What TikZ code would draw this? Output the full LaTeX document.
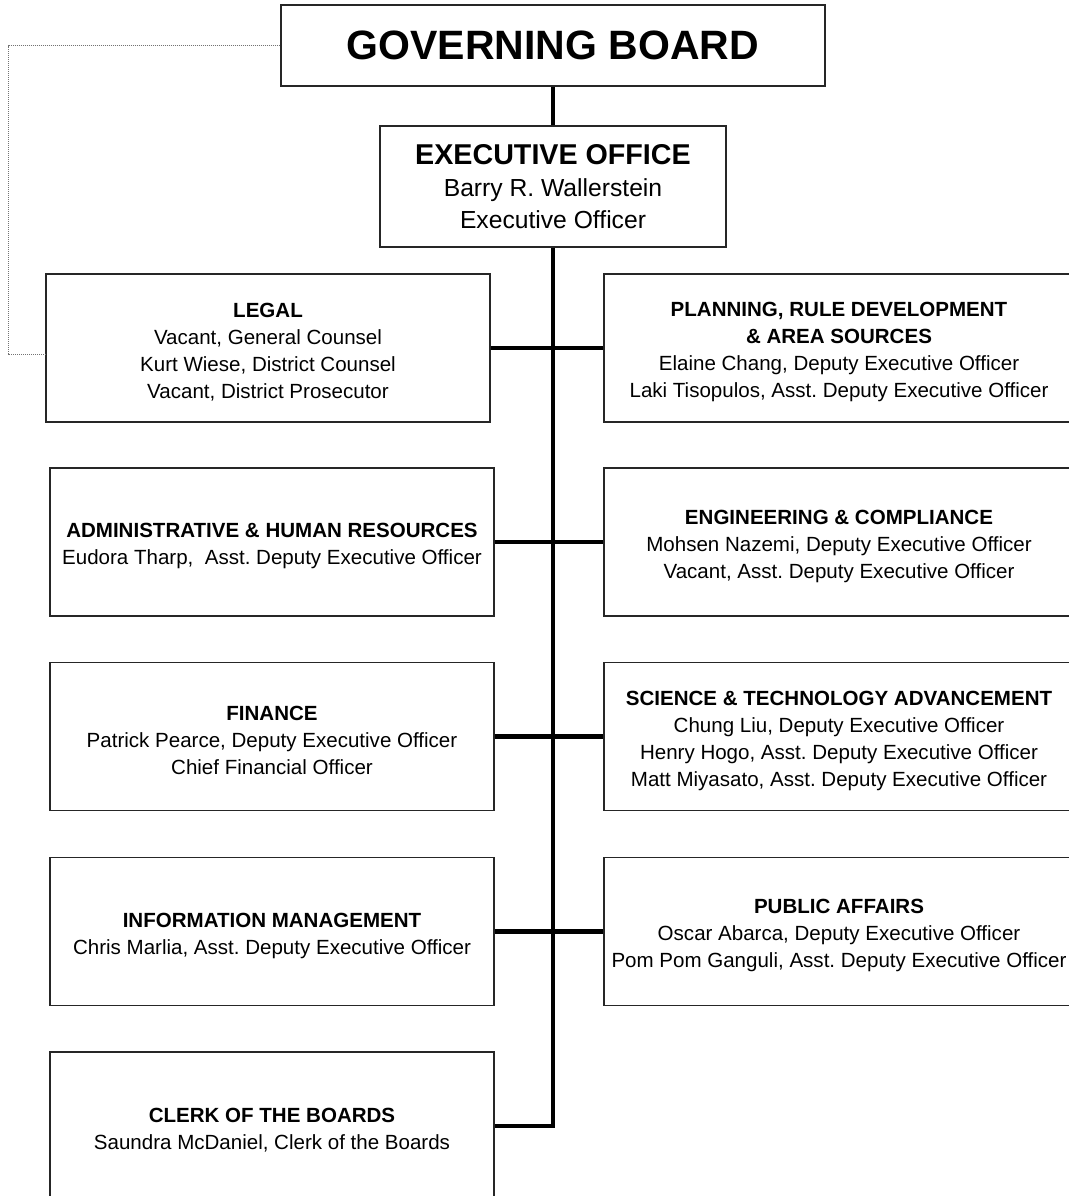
\documentclass[tikz,border=0pt]{standalone}
\usepackage{fontspec}
\setmainfont{Liberation Sans}
\frenchspacing
\newcommand{\topfix}{\rule{0pt}{17pt}}
\begin{document}
\begin{tikzpicture}[x=0.75pt,y=-0.75pt,
  box/.style={draw=black!85, line width=1.1pt, align=center, inner sep=0pt,
    font=\fontsize{15.4}{20.25}\selectfont},
  sidebox/.style={box, minimum width=333pt, minimum height=111pt},
  rightbox/.style={box, minimum width=352.5pt, minimum height=111pt},
  conn/.style={line width=3.3pt, black},
  dotline/.style={draw=black!55, line width=0.6pt, dash pattern=on 0.75pt off 0.75pt}]
\clip (0,0) rectangle (1069,1196);
\fill[white] (0,0) rectangle (1069,1196);
% top boxes
\node[box, minimum width=408pt, minimum height=61pt, font=\fontsize{30.75}{36}\selectfont\bfseries] (gov) at (553,45.5) {GOVERNING BOARD};
\node[box, minimum width=259.5pt, minimum height=91pt, font=\fontsize{18.5}{24}\selectfont] (exec) at (553,186.5)
  {{\fontsize{21.5}{24}\selectfont\bfseries EXECUTIVE OFFICE}\\Barry R. Wallerstein\\Executive Officer};
% left column
\node[sidebox] (legal) at (268,348) {\topfix\textbf{LEGAL}\\Vacant, General Counsel\\Kurt Wiese, District Counsel\\Vacant, District Prosecutor};
\node[sidebox] (admin) at (272,542) {\topfix\textbf{ADMINISTRATIVE \& HUMAN RESOURCES}\\Eudora Tharp,\ \ Asst. Deputy Executive Officer};
\node[sidebox] (fin) at (272,736.5) {\topfix\textbf{FINANCE}\\Patrick Pearce, Deputy Executive Officer\\Chief Financial Officer};
\node[sidebox] (info) at (272,931.5) {\topfix\textbf{INFORMATION MANAGEMENT}\\Chris Marlia, Asst. Deputy Executive Officer};
\node[sidebox] (clerk) at (272,1126) {\topfix\textbf{CLERK OF THE BOARDS}\\Saundra McDaniel, Clerk of the Boards};
% right column
\node[rightbox] (plan) at (839,348) {\topfix\textbf{PLANNING, RULE DEVELOPMENT}\\\textbf{\& AREA SOURCES}\\Elaine Chang, Deputy Executive Officer\\Laki Tisopulos, Asst. Deputy Executive Officer};
\node[rightbox] (eng) at (839,542) {\topfix\textbf{ENGINEERING \& COMPLIANCE}\\Mohsen Nazemi, Deputy Executive Officer\\Vacant, Asst. Deputy Executive Officer};
\node[rightbox] (sci) at (839,736.5) {\topfix\textbf{SCIENCE \& TECHNOLOGY ADVANCEMENT}\\Chung Liu, Deputy Executive Officer\\Henry Hogo, Asst. Deputy Executive Officer\\Matt Miyasato, Asst. Deputy Executive Officer};
\node[rightbox] (pub) at (839,931.5) {\topfix\textbf{PUBLIC AFFAIRS}\\Oscar Abarca, Deputy Executive Officer\\Pom Pom Ganguli, Asst. Deputy Executive Officer};
% connectors
\draw[conn] (gov.south) -- (exec.north);
\draw[conn] (exec.south) |- (clerk.east);
\draw[conn] (legal.east) -- (plan.west);
\draw[conn] (admin.east) -- (eng.west);
\draw[conn] (fin.east) -- (sci.west);
\draw[conn] (info.east) -- (pub.west);
% dotted link
\coordinate (dl) at (8,354);
\draw[dotline] (gov.west) -| (dl) -- (dl -| legal.west);
\end{tikzpicture}
\end{document}
